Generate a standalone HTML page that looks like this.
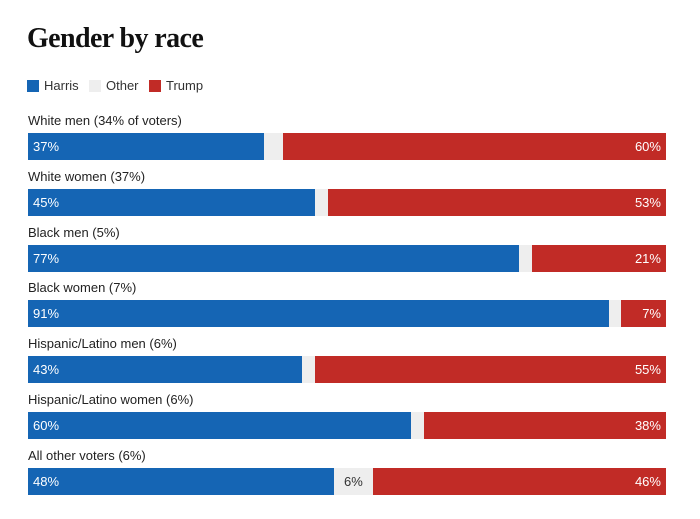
<!DOCTYPE html>
<html><head><meta charset="utf-8"><style>
body{margin:0;width:700px;height:519px;background:#fff;font-family:"Liberation Sans",sans-serif;position:relative;overflow:hidden}
.t{position:absolute;left:27px;top:23px;font-family:"Liberation Serif",serif;font-weight:bold;font-size:28px;color:#111;letter-spacing:-0.6px}
.lg{position:absolute;top:78px;font-size:13px;color:#333;display:flex;align-items:center}
.sq{width:12px;height:12px;margin-right:5px;display:inline-block}
.lab{position:absolute;left:28px;font-size:13px;color:#222}
.seg{position:absolute;height:27px;font-size:13px;color:#fff;line-height:27px;box-sizing:border-box}
</style></head><body>
<div class="t">Gender by race</div>
<div class="lg" style="left:27px"><span class="sq" style="background:#1565b4"></span>Harris</div>
<div class="lg" style="left:89px"><span class="sq" style="background:#eeeeee"></span>Other</div>
<div class="lg" style="left:149px"><span class="sq" style="background:#c12b26"></span>Trump</div>
<div id="chart"></div>
<script>
const categories=["White men (34% of voters)","White women (37%)","Black men (5%)","Black women (7%)","Hispanic/Latino men (6%)","Hispanic/Latino women (6%)","All other voters (6%)"];
const harris=[37,45,77,91,43,60,48];
const trump=[60,53,21,7,55,38,46];
const X0=28,W=638,Y0=133,STEP=55.8;
const x=v=>v/100*W;
const c=document.getElementById('chart');
function mk(cls,style,txt){const d=document.createElement('div');d.className=cls;Object.assign(d.style,style);if(txt)d.textContent=txt;c.appendChild(d);return d;}
categories.forEach((cat,i)=>{
  const y=Y0+i*STEP;
  const l=mk('lab',{top:(y-20)+'px'},cat);
  
  
  const h=harris[i],t=trump[i],o=100-h-t;
  const hb=mk('seg',{left:X0+'px',top:y+'px',width:x(h)+'px',background:'#1565b4',paddingLeft:'5px'},h+'%');
  
  
  const ob=mk('seg',{left:(X0+x(h))+'px',top:y+'px',width:x(o)+'px',background:'#eeeeee',color:'#333',textAlign:'center'},o>=5?o+'%':'');
  
  
  const tb=mk('seg',{left:(X0+W-x(t))+'px',top:y+'px',width:x(t)+'px',background:'#c12b26',textAlign:'right',paddingRight:'5px'},t+'%');
  
  
});
</script>
</body></html>
